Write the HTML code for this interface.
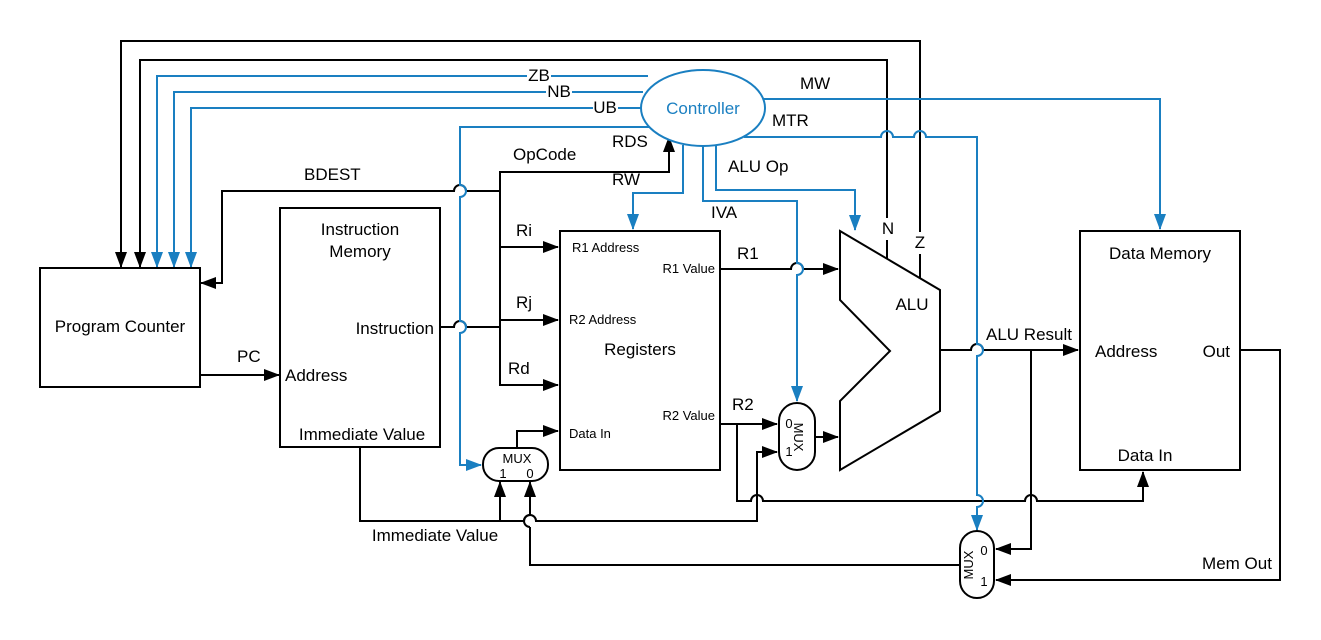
<!DOCTYPE html>
<html><head><meta charset="utf-8"><style>
html,body{margin:0;padding:0;background:#fff;}
svg{display:block;font-family:"Liberation Sans",sans-serif;}
</style></head><body>
<svg width="1321" height="640" viewBox="0 0 1321 640" xmlns="http://www.w3.org/2000/svg">
<defs>
<marker id="ab" markerWidth="16" markerHeight="12" refX="15" refY="6" orient="auto" markerUnits="userSpaceOnUse" viewBox="0 0 16 12"><path d="M0,0 L16,6 L0,12 z" fill="#000"/></marker>
<marker id="abl" markerWidth="16" markerHeight="12" refX="15" refY="6" orient="auto" markerUnits="userSpaceOnUse" viewBox="0 0 16 12"><path d="M0,0 L16,6 L0,12 z" fill="#1a7fc1"/></marker>
</defs>
<rect width="1321" height="640" fill="#fff"/>
<g fill="none" stroke="#000" stroke-width="2">
<path d="M920,282 V41 H121 V267" marker-end="url(#ab)"/>
<path d="M887,264 V60 H140 V267" marker-end="url(#ab)"/>
<path d="M500,191 H466 a6,6 0 0 0 -12,0 H222 V283 H201" marker-end="url(#ab)"/>
<path d="M500,191 V172 H669 V137" marker-end="url(#ab)"/>
<path d="M440,327 H454 a6,6 0 0 1 12,0 H500"/>
<path d="M500,191 V385 H558" marker-end="url(#ab)"/>
<path d="M500,247 H558" marker-end="url(#ab)"/>
<path d="M500,320 H558" marker-end="url(#ab)"/>
<path d="M200,375 H279" marker-end="url(#ab)"/>
<path d="M720,269 H791 a6,6 0 0 1 12,0 H838" marker-end="url(#ab)"/>
<path d="M720,424 H777" marker-end="url(#ab)"/>
<path d="M737,424 V501 H751 a6,6 0 0 1 12,0 H1025 a6,6 0 0 1 12,0 H1143 V472" marker-end="url(#ab)"/>
<path d="M360,447 V521 H524 a6,6 0 0 1 12,0 H757 V452 H777" marker-end="url(#ab)"/>
<path d="M500,521 V482" marker-end="url(#ab)"/>
<path d="M960,565 H530 V527 M530,515 V482" marker-end="url(#ab)"/>
<path d="M530,527 a6,6 0 0 1 0,-12"/>
<path d="M517,448 V431 H558" marker-end="url(#ab)"/>
<path d="M815,437 H838" marker-end="url(#ab)"/>
<path d="M940,350 H971 a6,6 0 0 1 12,0 H1078" marker-end="url(#ab)"/>
<path d="M1031,350 V549 H996" marker-end="url(#ab)"/>
<path d="M1240,350 H1280 V580 H996" marker-end="url(#ab)"/>
</g>
<g fill="none" stroke="#1a7fc1" stroke-width="2">
<path d="M648,76 H157 V267" marker-end="url(#abl)"/>
<path d="M643,92 H174 V267" marker-end="url(#abl)"/>
<path d="M641,108 H191 V267" marker-end="url(#abl)"/>
<path d="M650,127 H460 V185 a6,6 0 0 1 0,12 V321 a6,6 0 0 1 0,12 V465 H481" marker-end="url(#abl)"/>
<path d="M683,145 V193 H633 V229" marker-end="url(#abl)"/>
<path d="M703,146 V201 H797 V263 a6,6 0 0 1 0,12 V401" marker-end="url(#abl)"/>
<path d="M716,145 V190 H855 V230" marker-end="url(#abl)"/>
<path d="M744,137 H881 a6,6 0 0 1 12,0 H914 a6,6 0 0 1 12,0 H977 V344 a6,6 0 0 1 0,12 V495 a6,6 0 0 1 0,12 V530" marker-end="url(#abl)"/>
<path d="M762,99 H1160 V229" marker-end="url(#abl)"/>
<ellipse cx="703" cy="108" rx="62" ry="38" fill="#fff"/>
</g>
<g fill="#fff" stroke="#000" stroke-width="2">
<rect x="40" y="268" width="160" height="119"/>
<rect x="280" y="208" width="160" height="239"/>
<rect x="560" y="231" width="160" height="239"/>
<rect x="1080" y="231" width="160" height="239"/>
<polygon points="840,231 940,290 940,411 840,470 840,401 890,351 840,300"/>
<rect x="483" y="448" width="65" height="33" rx="16"/>
<rect x="779" y="403" width="36" height="67" rx="18"/>
<rect x="960" y="531" width="34" height="67" rx="17"/>
</g>
<rect x="880" y="218" width="16" height="22" fill="#fff"/>
<rect x="912" y="232" width="16" height="22" fill="#fff"/>
<rect x="527" y="66" width="24" height="18" fill="#fff"/>
<rect x="546" y="83" width="26" height="18" fill="#fff"/>
<rect x="593" y="98" width="25" height="18" fill="#fff"/>
<g font-size="17" fill="#000">
<text x="703" y="114" text-anchor="middle" fill="#1a7fc1">Controller</text>
<text x="539" y="81" text-anchor="middle">ZB</text>
<text x="559" y="97" text-anchor="middle">NB</text>
<text x="605" y="113" text-anchor="middle">UB</text>
<text x="612" y="147">RDS</text>
<text x="513" y="160">OpCode</text>
<text x="612" y="185">RW</text>
<text x="304" y="180">BDEST</text>
<text x="800" y="89">MW</text>
<text x="772" y="126">MTR</text>
<text x="728" y="172">ALU Op</text>
<text x="711" y="218">IVA</text>
<text x="888" y="234" text-anchor="middle">N</text>
<text x="920" y="248" text-anchor="middle">Z</text>
<text x="120" y="332" text-anchor="middle">Program Counter</text>
<text x="360" y="235" text-anchor="middle">Instruction</text>
<text x="360" y="257" text-anchor="middle">Memory</text>
<text x="434" y="334" text-anchor="end">Instruction</text>
<text x="285" y="381">Address</text>
<text x="362" y="440" text-anchor="middle">Immediate Value</text>
<text x="237" y="362">PC</text>
<text x="516" y="236">Ri</text>
<text x="516" y="308">Rj</text>
<text x="508" y="374">Rd</text>
<text x="640" y="355" text-anchor="middle">Registers</text>
<text x="737" y="259">R1</text>
<text x="732" y="410">R2</text>
<text x="912" y="310" text-anchor="middle">ALU</text>
<text x="986" y="340">ALU Result</text>
<text x="1160" y="259" text-anchor="middle">Data Memory</text>
<text x="1095" y="357">Address</text>
<text x="1230" y="357" text-anchor="end">Out</text>
<text x="1145" y="461" text-anchor="middle">Data In</text>
<text x="435" y="541" text-anchor="middle">Immediate Value</text>
<text x="1237" y="569" text-anchor="middle">Mem Out</text>
</g>
<g font-size="13" fill="#000">
<text x="572" y="252">R1 Address</text>
<text x="715" y="273" text-anchor="end">R1 Value</text>
<text x="569" y="324">R2 Address</text>
<text x="715" y="420" text-anchor="end">R2 Value</text>
<text x="569" y="438">Data In</text>
<text x="517" y="463" text-anchor="middle">MUX</text>
<text x="503" y="478" text-anchor="middle">1</text>
<text x="530" y="478" text-anchor="middle">0</text>
<text x="789" y="428" text-anchor="middle">0</text>
<text x="789" y="456" text-anchor="middle">1</text>
<text transform="translate(798,437) rotate(90)" text-anchor="middle" y="4">MUX</text>
<text x="984" y="555" text-anchor="middle">0</text>
<text x="984" y="586" text-anchor="middle">1</text>
<text transform="translate(969,565) rotate(-90)" text-anchor="middle" y="4">MUX</text>
</g>
</svg>
</body></html>
